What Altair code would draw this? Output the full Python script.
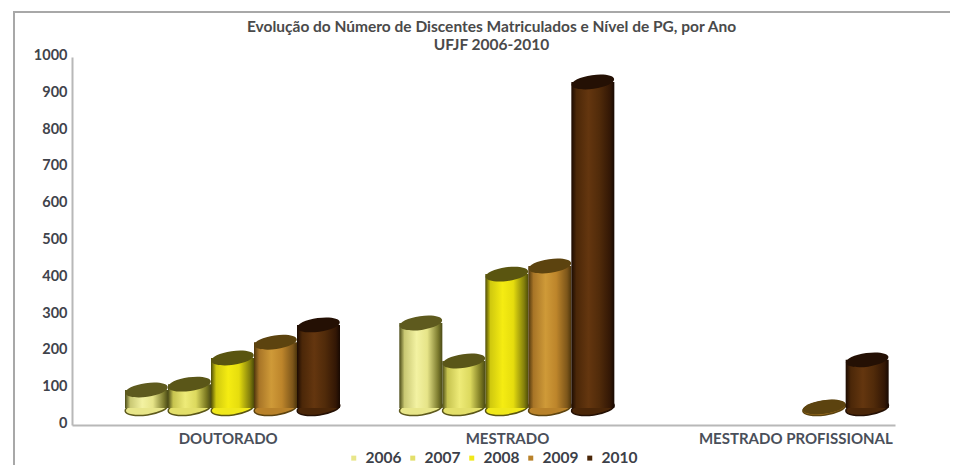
import altair as alt
import pandas as pd

categories = ["DOUTORADO", "MESTRADO", "MESTRADO PROFISSIONAL"]
years = ["2006", "2007", "2008", "2009", "2010"]
doutorado = [95, 111, 182, 225, 272]
mestrado = [277, 174, 410, 432, 932]
profissional = [None, None, None, 49, 177]
floor_value = 46
legend_colors = ["#e8e68a", "#e3df6a", "#f0e81a", "#b9822a", "#4a2608"]
top_colors = ["#5e5a1e", "#5a5618", "#5a5510", "#5c430f", "#241004"]
side_stops = [
    ["#4a4a16", "#c9c873", "#f3f2a2", "#e6e488", "#7c7b2e", "#4a4a16"],
    ["#4a4a16", "#c6c34f", "#eeeb78", "#dcd95e", "#77751f", "#4a4a16"],
    ["#4e4c08", "#d0c90f", "#f5ec12", "#e6dd0e", "#84800c", "#4e4c08"],
    ["#4e360c", "#a87527", "#cf9a38", "#bd852b", "#7d561a", "#4e360c"],
    ["#1c0b02", "#4b2708", "#64360f", "#512b0a", "#331705", "#180902"],
]
stop_offsets = [0, 0.12, 0.4, 0.65, 0.9, 1]

rows = []
for cat, vals in zip(categories, [doutorado, mestrado, profissional]):
    for yr, v in zip(years, vals):
        if v is not None:
            rows.append({"nivel": cat, "ano": yr, "valor": v, "piso": floor_value})
df = pd.DataFrame(rows)

ELLIPSE = "M-1,0A1,0.32 0 1,1 1,0A1,0.32 0 1,1 -1,0Z"
FONT = "Lato"
x_scale = alt.Scale(domain=categories, paddingInner=0, paddingOuter=0)
off_scale = alt.Scale(domain=years, range=[53, 268], paddingInner=0, paddingOuter=0)
y_scale = alt.Scale(domain=[0, 1000], nice=False)
x_enc = alt.X("nivel:N", scale=x_scale, sort=categories, title=None,
              axis=alt.Axis(labelAngle=0, ticks=False, labelPadding=6, labelFont=FONT,
                            labelFontSize=15, labelFontWeight="bold", labelColor="#4a4f5a",
                            domainColor="#b8b8b8", domainWidth=2, grid=False, labelLimit=260,
                            labelOffset=alt.expr("datum.value == 'DOUTORADO' ? 19 : datum.value == 'MESTRADO' ? 24 : 38")))
off_enc = alt.XOffset("ano:N", scale=off_scale, sort=years)
y_axis = alt.Axis(values=list(range(0, 1001, 100)), format="d", ticks=False, grid=False,
                  labelFont=FONT, labelFontSize=14.5, labelFontWeight="bold",
                  labelColor="#3f434b", labelPadding=5, labelOffset=-1.5,
                  domainColor="#b8b8b8", domainWidth=2)

layers = []
for i, yr in enumerate(years):
    sub = df[df["ano"] == yr]
    layers.append(alt.Chart(sub).mark_point(shape=ELLIPSE, size=1849, filled=True, opacity=1, angle=352,
                                            stroke=top_colors[i], strokeWidth=1.5).encode(
        x=x_enc, xOffset=off_enc,
        y=alt.Y("piso:Q", scale=y_scale, title=None, axis=y_axis),
        color=alt.Color("ano:N", scale=alt.Scale(domain=years, range=legend_colors),
                        legend=alt.Legend(title=None, orient="none", legendX=274, legendY=393,
                                          direction="horizontal", symbolType="square", symbolSize=25,
                                          labelFont=FONT, labelFontSize=15.5, labelFontWeight="bold",
                                          labelColor="#3c4048", columnPadding=3, labelOffset=4,
                                          symbolStrokeWidth=0)),
    ))
    grad = alt.Gradient(gradient="linear", x1=0, x2=1, y1=0, y2=0,
                        stops=[alt.GradientStop(offset=o, color=c) for o, c in zip(stop_offsets, side_stops[i])])
    bar_data = sub[sub["valor"] > floor_value + 10]
    if len(bar_data):
        layers.append(alt.Chart(bar_data).mark_bar(color=grad).encode(
            x=x_enc, xOffset=off_enc,
            y=alt.Y("valor:Q", scale=y_scale, title=None, axis=y_axis),
            y2="piso:Q",
        ))
    layers.append(alt.Chart(sub).mark_point(shape=ELLIPSE, size=1849, filled=True, opacity=1, angle=352,
                                            color=top_colors[i]).encode(
        x=x_enc, xOffset=off_enc,
        y=alt.Y("valor:Q", scale=y_scale, title=None, axis=y_axis),
    ))

frame_color = "#a8a8a8"
frame = [
    alt.Chart(df.head(1)).mark_rect(filled=False, stroke=frame_color, strokeWidth=2).encode(
        x=alt.value(-58), x2=alt.value(900), y=alt.value(-45), y2=alt.value(430)),
]

chart = alt.layer(*frame, *layers).properties(
    width=823, height=368,
    title=alt.Title(["Evolução do Número de Discentes Matriculados e Nível de PG, por Ano", "UFJF 2006-2010"],
                    font=FONT, fontSize=15.5, fontWeight="bold", color="#4a4a4a", anchor="middle",
                    frame="group", dx=8, offset=-42, lineHeight=18),
    padding={"left": 64, "top": 49, "right": 55, "bottom": 40},
    autosize=alt.AutoSizeParams(type="none"),
).configure_view(stroke=None)

chart.save("out.html", embed_options={"renderer": "svg", "actions": False})
